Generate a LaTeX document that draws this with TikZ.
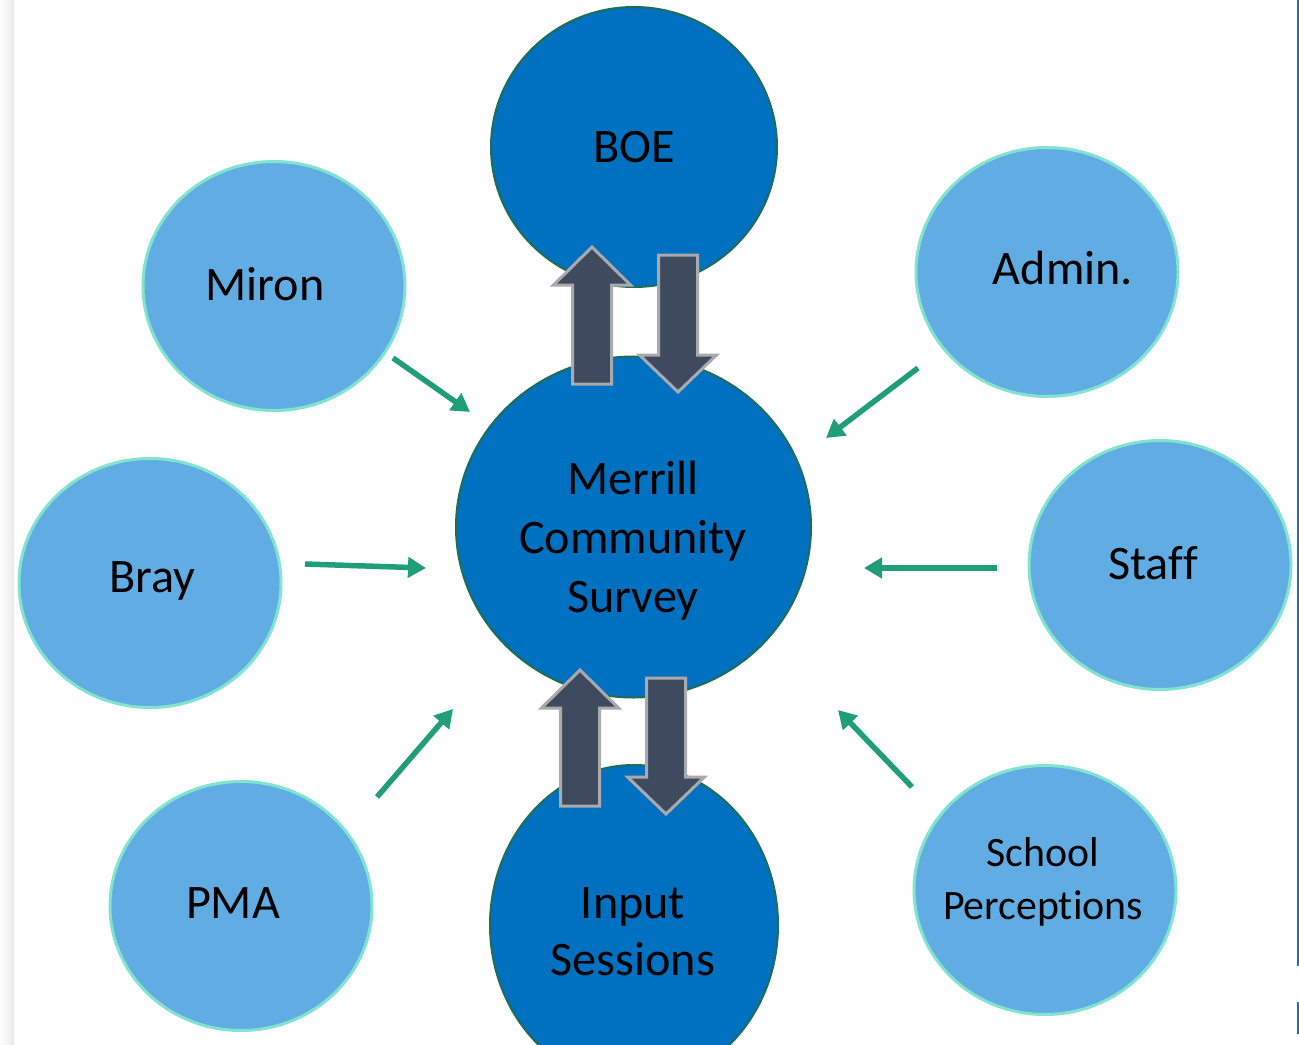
\documentclass[tikz,border=0pt]{standalone}
\usepackage{fontspec}
\setmainfont{Carlito}[Ligatures={NoCommon}]
\usetikzlibrary{shapes.geometric,arrows.meta}

\definecolor{coreblue}{RGB}{0,112,192}
\definecolor{coreedge}{RGB}{30,110,85}
\definecolor{sourceblue}{RGB}{97,173,227}
\definecolor{sourceedge}{RGB}{128,228,206}
\definecolor{slate}{RGB}{62,74,93}
\definecolor{slateedge}{RGB}{170,170,172}
\definecolor{feedgreen}{RGB}{32,158,120}
\definecolor{pagerule}{RGB}{30,112,182}

\tikzset{
  source/.style={ellipse, draw=sourceedge, line width=0.6mm, fill=sourceblue,
    minimum width=5.24cm, minimum height=4.98cm, inner sep=0pt},
  core/.style={ellipse, draw=coreedge, line width=0.4mm, fill=coreblue, inner sep=0pt},
  tag/.style={inner sep=0pt, align=center, font=\fontsize{27.4}{33.5}\selectfont},
  feed/.style={draw=feedgreen, line width=1.1mm, -{Triangle[length=3.6mm,width=4mm]}},
  blockarrow/.style={fill=slate, draw=slateedge, line width=0.6mm, line join=miter},
}

\begin{document}
\begin{tikzpicture}[%
      x=0.2mm, y=-0.2mm,
      ]
      \useasboundingbox (0,0) rectangle (1299,1045);
      \clip (0,0) rectangle (1299,1045);

      % page edges
      \shade [left color=white, right color=black!9] (0,0) rectangle (14,1045);
      \draw [pagerule, line width=0.35mm] (1297.8,0) -- (1297.8,966);
      \draw [pagerule, line width=0.35mm] (1297.8,1002) -- (1297.8,1034);

      % the survey and the two groups it talks to
      \node [core, minimum width=5.72cm, minimum height=5.6cm] (boe) at (634,147) {};
      \node [core, minimum width=7.1cm, minimum height=6.82cm] (survey) at (633.5,527) {};
      \node [core, minimum width=5.76cm, minimum height=6.4cm] (input) at (634,925) {};

      % sources
      \node [source] (miron) at (274,286) {};
      \node [source] (admin) at (1047,272) {};
      \node [source] (bray) at (150,583) {};
      \node [source] (staff) at (1160,565) {};
      \node [source] (pma) at (241,906) {};
      \node [source] (perceptions) at (1045,890) {};

      % texts
      \node [tag] (boe-text) at (634,147) {BOE};
      \node [tag] (survey-text) at (633,541) {Merrill\\Community\\Survey};
      \node [tag, font=\fontsize{27.4}{32.5}\selectfont] (input-text) at (633,932) {Input\\Sessions};
      \node [tag] (miron-text) at (265,284) {Miron};
      \node [tag] (admin-text) at (1063,268) {Admin.};
      \node [tag] (bray-text) at (152,581) {Bray};
      \node [tag] (staff-text) at (1153,563) {Staff};
      \node [tag] (pma-text) at (233,903) {PMA};
      \node [tag, font=\fontsize{23.8}{30}\selectfont] (perceptions-text) at (1043,882)
        {School\\Perceptions};

      % two-way block arrows
      \filldraw [blockarrow] (592,247) -- ++(38.5,38) -- ++(-19,0) -- ++(0,99)
        -- ++(-39,0) -- ++(0,-99) -- ++(-19,0) -- cycle;
      \filldraw [blockarrow] (678,392) -- ++(38.5,-37) -- ++(-19,0) -- ++(0,-100)
        -- ++(-39,0) -- ++(0,100) -- ++(-19,0) -- cycle;
      \filldraw [blockarrow] (580,670) -- ++(38.5,38) -- ++(-19,0) -- ++(0,98)
        -- ++(-39,0) -- ++(0,-98) -- ++(-19,0) -- cycle;
      \filldraw [blockarrow] (666,814) -- ++(38.5,-37) -- ++(-19,0) -- ++(0,-99)
        -- ++(-39,0) -- ++(0,99) -- ++(-19,0) -- cycle;

      % feeds into the survey
      \coordinate (miron-out) at (393,358);
      \coordinate (survey-nw) at (470,412);
      \coordinate (admin-out) at (918,368);
      \coordinate (survey-ne) at (826,438);
      \coordinate (bray-out) at (305,564);
      \coordinate (survey-w) at (426,568);
      \coordinate (staff-out) at (997,568);
      \coordinate (survey-e) at (864,568);
      \coordinate (pma-out) at (377,797);
      \coordinate (survey-sw) at (453,709);
      \coordinate (perceptions-out) at (912,787);
      \coordinate (survey-se) at (838,710);

      \draw [feed] (miron-out) -- (survey-nw);
      \draw [feed] (admin-out) -- (survey-ne);
      \draw [feed] (bray-out) -- (survey-w);
      \draw [feed] (staff-out) -- (survey-e);
      \draw [feed] (pma-out) -- (survey-sw);
      \draw [feed] (perceptions-out) -- (survey-se);
      \end{tikzpicture}
\end{document}
